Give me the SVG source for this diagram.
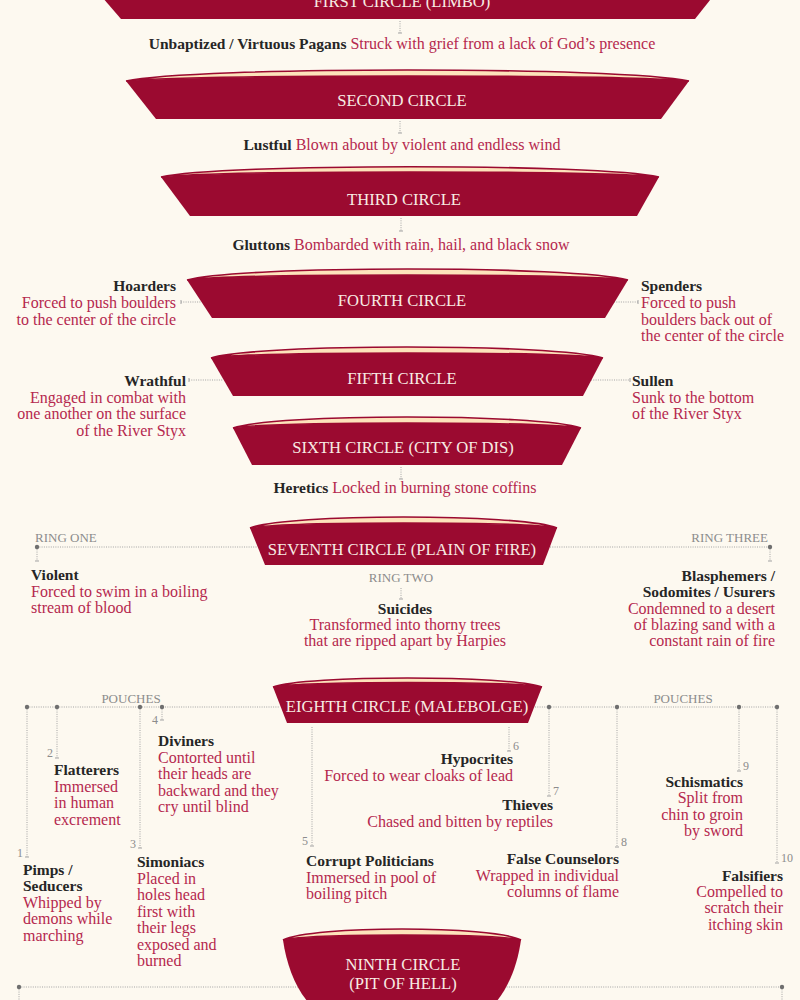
<svg xmlns="http://www.w3.org/2000/svg" width="800" height="1000" viewBox="0 0 800 1000">
<style>
.rim{fill:#fde3bb;stroke:#9b0a30;stroke-width:1.6}
.body{fill:#9b0a30}
.c{font-family:"Liberation Serif",serif;font-size:16.6px;fill:#f8ece4;text-anchor:middle}
.n{font-family:"Liberation Serif",serif;font-size:15.5px;font-weight:bold;fill:#262626}
.d{font-family:"Liberation Serif",serif;font-size:16px;fill:#b5284e}
.g{font-family:"Liberation Serif",serif;font-size:13px;fill:#8c8c8c}
.num{font-family:"Liberation Serif",serif;font-size:12px;fill:#8c8c8c}
.ln{stroke:#a3a3a3;stroke-width:1;stroke-dasharray:1 1.3;fill:none}
.tk{stroke:#a3a3a3;stroke-width:1;fill:none}
.dot{fill:#6f6f6f}
.r{text-anchor:end}
.m{text-anchor:middle}
</style>
<rect width="800" height="1000" fill="#fdf9f0"/>

<g id="connectors">
<path class="ln" d="M400,21V33M400,121V133M401,218V231M401,467V479M401,588V599"/>
<path class="tk" d="M398,33H402M398,133H402M399,231H403M399,479H403M399,599H403"/>
<path class="ln" d="M181,302H201M614,302H638M189,380H223M591,380H630"/>
<path class="tk" d="M181,300V304M638,300V304M189,378V382M630,378V382"/>
<path class="ln" d="M37,547H257M550,547H770M37,547V561M770,547V561"/>
<path class="tk" d="M35,561H39M768,561H772"/>
<circle class="dot" cx="37" cy="547" r="2.2"/>
<circle class="dot" cx="770" cy="547" r="2.2"/>
<path class="ln" d="M27,707H280M535,707H777M27,707V857M57,707V758M140,707V848M162,707V720M312,727V846M509,727V751M549,707V796M617,707V847M739,707V771M777,707V863"/>
<path class="tk" d="M25,857H29M55,758H59M138,848H142M160,720H164M310,846H314M507,751H511M547,796H551M615,847H619M737,771H741M775,863H779"/>
<circle class="dot" cx="27" cy="707" r="2.2"/>
<circle class="dot" cx="57" cy="707" r="2.2"/>
<circle class="dot" cx="140" cy="707" r="2.2"/>
<circle class="dot" cx="162" cy="707" r="2.2"/>
<circle class="dot" cx="549" cy="707" r="2.2"/>
<circle class="dot" cx="617" cy="707" r="2.2"/>
<circle class="dot" cx="739" cy="707" r="2.2"/>
<circle class="dot" cx="777" cy="707" r="2.2"/>
<text class="num r" x="23" y="857">1</text>
<text class="num r" x="53" y="757">2</text>
<text class="num r" x="136" y="848">3</text>
<text class="num r" x="158" y="724">4</text>
<text class="num r" x="308" y="845">5</text>
<text class="num" x="513" y="750">6</text>
<text class="num" x="553" y="795">7</text>
<text class="num" x="621" y="846">8</text>
<text class="num" x="743" y="770">9</text>
<text class="num" x="781" y="862">10</text>
<path class="ln" d="M19,987H782M19,987V1000M782,987V1000"/>
<circle class="dot" cx="19" cy="987" r="2.2"/>
<circle class="dot" cx="782" cy="987" r="2.2"/>
</g>

<g id="circle1">
<path class="body" d="M96,-10H718L695,19H121Z"/>
<text class="c" x="402" y="7">FIRST CIRCLE (LIMBO)</text>
</g>
<g id="limbo-text"><text x="402" y="49" class="m"><tspan class="n">Unbaptized / Virtuous Pagans</tspan><tspan class="d"> Struck with grief from a lack of God’s presence</tspan></text></g>

<g id="circle2">
<path class="rim" d="M126,81C194,66.3 621,66.3 689,81C621,74.3 194,74.3 126,81Z"/>
<path class="body" d="M126,81C194,74.3 621,74.3 689,81L661,119H156Z"/>
<text class="c" x="402" y="106">SECOND CIRCLE</text>
</g>
<g id="lustful"><text x="402" y="150" class="m"><tspan class="n">Lustful</tspan><tspan class="d"> Blown about by violent and endless wind</tspan></text></g>

<g id="circle3">
<path class="rim" d="M161,177C221,163.3 599,163.3 659,177C599,170.3 221,170.3 161,177Z"/>
<path class="body" d="M161,177C221,170.3 599,170.3 659,177L637,216H190Z"/>
<text class="c" x="404" y="205">THIRD CIRCLE</text>
</g>
<g id="gluttons"><text x="401" y="250" class="m"><tspan class="n">Gluttons</tspan><tspan class="d"> Bombarded with rain, hail, and black snow</tspan></text></g>

<g id="circle4">
<path class="rim" d="M187,280C240,265.3 575,265.3 628,280C575,273.3 240,273.3 187,280Z"/>
<path class="body" d="M187,280C240,273.3 575,273.3 628,280L605,318H212Z"/>
<text class="c" x="402" y="306">FOURTH CIRCLE</text>
</g>
<g id="hoarders">
<text class="n r" x="176" y="291">Hoarders</text>
<text class="d r" x="176" y="308">Forced to push boulders</text>
<text class="d r" x="176" y="325">to the center of the circle</text>
</g>
<g id="spenders">
<text class="n" x="641" y="291">Spenders</text>
<text class="d" x="641" y="308">Forced to push</text>
<text class="d" x="641" y="325">boulders back out of</text>
<text class="d" x="641" y="341">the center of the circle</text>
</g>

<g id="circle5">
<path class="rim" d="M211,358C258,343.3 556,343.3 603,358C556,351.3 258,351.3 211,358Z"/>
<path class="body" d="M211,358C258,351.3 556,351.3 603,358L583,396H233Z"/>
<text class="c" x="402" y="384">FIFTH CIRCLE</text>
</g>
<g id="wrathful">
<text class="n r" x="186" y="386">Wrathful</text>
<text class="d r" x="186" y="403">Engaged in combat with</text>
<text class="d r" x="186" y="419">one another on the surface</text>
<text class="d r" x="186" y="436">of the River Styx</text>
</g>
<g id="sullen">
<text class="n" x="632" y="386">Sullen</text>
<text class="d" x="632" y="403">Sunk to the bottom</text>
<text class="d" x="632" y="419">of the River Styx</text>
</g>

<g id="circle6">
<path class="rim" d="M233,428C275,413.3 539,413.3 581,428C539,421.3 275,421.3 233,428Z"/>
<path class="body" d="M233,428C275,421.3 539,421.3 581,428L562,465H252Z"/>
<text class="c" x="403" y="453">SIXTH CIRCLE (CITY OF DIS)</text>
</g>
<g id="heretics"><text x="405" y="493" class="m"><tspan class="n">Heretics</tspan><tspan class="d"> Locked in burning stone coffins</tspan></text></g>

<g id="circle7">
<path class="rim" d="M250,528C287,513.3 520,513.3 557,528C520,521.3 287,521.3 250,528Z"/>
<path class="body" d="M250,528C287,521.3 520,521.3 557,528L543,565H265Z"/>
<text class="c" x="402" y="555">SEVENTH CIRCLE (PLAIN OF FIRE)</text>
</g>
<g id="ring1">
<text class="g" x="35" y="542">RING ONE</text>
<text class="n" x="31" y="580">Violent</text>
<text class="d" x="31" y="597">Forced to swim in a boiling</text>
<text class="d" x="31" y="613">stream of blood</text>
</g>
<g id="ring2">
<text class="g m" x="401" y="582">RING TWO</text>
<text class="n m" x="405" y="614">Suicides</text>
<text class="d m" x="405" y="630">Transformed into thorny trees</text>
<text class="d m" x="405" y="646">that are ripped apart by Harpies</text>
</g>
<g id="ring3">
<text class="g r" x="768" y="542">RING THREE</text>
<text class="n r" x="775" y="581">Blasphemers /</text>
<text class="n r" x="775" y="597">Sodomites / Usurers</text>
<text class="d r" x="775" y="614">Condemned to a desert</text>
<text class="d r" x="775" y="630">of blazing sand with a</text>
<text class="d r" x="775" y="646">constant rain of fire</text>
</g>

<g id="circle8">
<path class="rim" d="M273,687C305,675 510,675 542,687C510,681 305,681 273,687Z"/>
<path class="body" d="M273,687C305,681 510,681 542,687L528,723H287Z"/>
<text class="c" x="407" y="712">EIGHTH CIRCLE (MALEBOLGE)</text>
</g>
<g id="pouches-labels">
<text class="g m" x="131" y="703">POUCHES</text>
<text class="g m" x="683" y="703">POUCHES</text>
</g>
<g id="pouch1">
<text class="n" x="23" y="875">Pimps /</text>
<text class="n" x="23" y="891">Seducers</text>
<text class="d" x="23" y="908">Whipped by</text>
<text class="d" x="23" y="924">demons while</text>
<text class="d" x="23" y="941">marching</text>
</g>
<g id="pouch2">
<text class="n" x="54" y="775">Flatterers</text>
<text class="d" x="54" y="792">Immersed</text>
<text class="d" x="54" y="808">in human</text>
<text class="d" x="54" y="825">excrement</text>
</g>
<g id="pouch3">
<text class="n" x="137" y="867">Simoniacs</text>
<text class="d" x="137" y="884">Placed in</text>
<text class="d" x="137" y="900">holes head</text>
<text class="d" x="137" y="917">first with</text>
<text class="d" x="137" y="933">their legs</text>
<text class="d" x="137" y="950">exposed and</text>
<text class="d" x="137" y="966">burned</text>
</g>
<g id="pouch4">
<text class="n" x="158" y="746">Diviners</text>
<text class="d" x="158" y="763">Contorted until</text>
<text class="d" x="158" y="779">their heads are</text>
<text class="d" x="158" y="796">backward and they</text>
<text class="d" x="158" y="812">cry until blind</text>
</g>
<g id="pouch5">
<text class="n" x="306" y="866">Corrupt Politicians</text>
<text class="d" x="306" y="883">Immersed in pool of</text>
<text class="d" x="306" y="899">boiling pitch</text>
</g>
<g id="pouch6">
<text class="n r" x="513" y="764">Hypocrites</text>
<text class="d r" x="513" y="781">Forced to wear cloaks of lead</text>
</g>
<g id="pouch7">
<text class="n r" x="553" y="810">Thieves</text>
<text class="d r" x="553" y="827">Chased and bitten by reptiles</text>
</g>
<g id="pouch8">
<text class="n r" x="619" y="864">False Counselors</text>
<text class="d r" x="619" y="881">Wrapped in individual</text>
<text class="d r" x="619" y="897">columns of flame</text>
</g>
<g id="pouch9">
<text class="n r" x="743" y="787">Schismatics</text>
<text class="d r" x="743" y="803">Split from</text>
<text class="d r" x="743" y="820">chin to groin</text>
<text class="d r" x="743" y="836">by sword</text>
</g>
<g id="pouch10">
<text class="n r" x="783" y="881">Falsifiers</text>
<text class="d r" x="783" y="897">Compelled to</text>
<text class="d r" x="783" y="913">scratch their</text>
<text class="d r" x="783" y="930">itching skin</text>
</g>

<g id="circle9">
<path class="rim" d="M283,940C312,925.3 492,925.3 521,940C492,933.3 312,933.3 283,940Z"/>
<path class="body" d="M283,940C312,933.3 492,933.3 521,940C517,968 506,995 488,1010H316C298,995 287,968 283,940Z"/>
<text class="c" x="403" y="970">NINTH CIRCLE</text>
<text class="c" x="403" y="989">(PIT OF HELL)</text>
</g>
</svg>
